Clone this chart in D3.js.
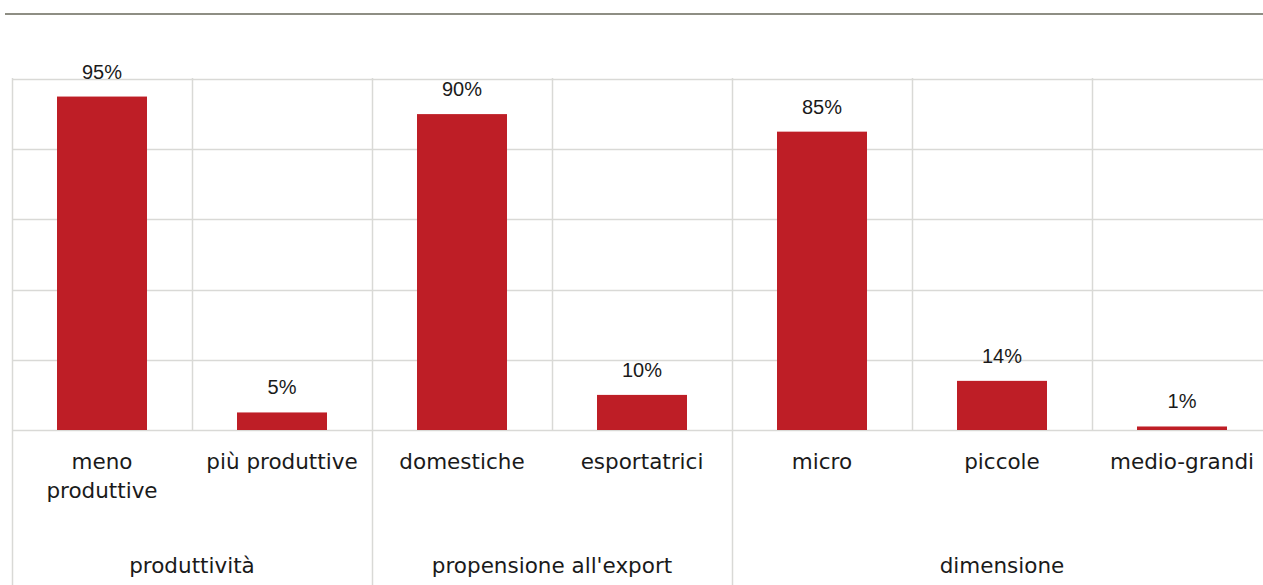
<!DOCTYPE html>
<html>
<head>
<meta charset="utf-8">
<script src="https://cdn.jsdelivr.net/npm/d3@7"></script>
<style>
  html, body { margin: 0; padding: 0; background: #ffffff; }
  svg { display: block; }
</style>
</head>
<body>
<svg id="chart" width="1263" height="585"></svg>
<script>
// Categories, their groups and the share of firms (%) in each
const categories = ["meno produttive", "più produttive", "domestiche", "esportatrici", "micro", "piccole", "medio-grandi"];
const categoryLines = [["meno", "produttive"], ["più produttive"], ["domestiche"], ["esportatrici"], ["micro"], ["piccole"], ["medio-grandi"]];
const values = [95, 5, 90, 10, 85, 14, 1];
const groups = ["produttività", "propensione all'export", "dimensione"];
const groupOf = [0, 0, 1, 1, 2, 2, 2];
const yTicks = [0, 20, 40, 60, 80, 100];

(function () {
  const svg = d3.select("#chart");
  const W = 1263, H = 585;
  const plotLeft = 12, plotRight = 1272, plotTop = 79, base = 430;

  const x = d3.scaleBand().domain(categories).range([plotLeft, plotRight]).paddingInner(0.5).paddingOuter(0.25);
  const step = x.step();
  const y = d3.scaleLinear().domain([0, 100]).range([base, plotTop]);

  const grid = "#d9d9d6";

  // Header rule
  svg.append("line")
    .attr("x1", 5).attr("x2", W).attr("y1", 14).attr("y2", 14)
    .attr("stroke", "#8e8e84").attr("stroke-width", 2);

  // Horizontal gridlines
  svg.append("g").selectAll("line").data(yTicks).join("line")
    .attr("x1", plotLeft).attr("x2", W)
    .attr("y1", d => Math.round(y(d)) + 0.5).attr("y2", d => Math.round(y(d)) + 0.5)
    .attr("stroke", grid).attr("stroke-width", 1.5);

  // Vertical dividers: category boundaries inside the plot, group boundaries run to the bottom
  const boundaries = d3.range(categories.length + 1).map(i => ({
    x: plotLeft + i * step,
    isGroup: i === 0 || i === categories.length || groupOf[i] !== groupOf[i - 1]
  }));
  svg.append("g").selectAll("line").data(boundaries).join("line")
    .attr("x1", d => Math.round(d.x) + 0.5).attr("x2", d => Math.round(d.x) + 0.5)
    .attr("y1", y(100) - 1).attr("y2", d => d.isGroup ? H : base)
    .attr("stroke", grid).attr("stroke-width", 1.5);

  // Bars
  const red = "#be1e26";
  svg.append("g").selectAll("rect").data(values).join("rect")
    .attr("x", (d, i) => x(categories[i]))
    .attr("width", x.bandwidth())
    .attr("y", d => y(d))
    .attr("height", d => base - y(d))
    .attr("fill", red);

  // Value labels
  svg.append("g").selectAll("text").data(values).join("text")
    .attr("x", (d, i) => x(categories[i]) + x.bandwidth() / 2)
    .attr("y", d => y(d) - 18)
    .attr("text-anchor", "middle")
    .attr("font-family", "'Liberation Sans', Arial, sans-serif")
    .attr("font-size", 20)
    .attr("fill", "#1a1a1a")
    .text(d => d + "%");

  // Category labels
  const catFont = "'DejaVu Sans', sans-serif";
  const catG = svg.append("g");
  categoryLines.forEach((lines, i) => {
    const cx = x(categories[i]) + x.bandwidth() / 2;
    const t = catG.append("text")
      .attr("x", cx)
      .attr("y", 469)
      .attr("text-anchor", "middle")
      .attr("font-family", catFont)
      .attr("font-size", 21.5)
      .attr("fill", "#1a1a1a");
    lines.forEach((ln, k) => {
      t.append("tspan")
        .attr("x", cx)
        .attr("dy", k === 0 ? 0 : 29)
        .text(ln);
    });
  });

  // Group labels centred under their categories
  svg.append("g").selectAll("text").data(groups).join("text")
    .attr("x", (g, gi) => {
      const idx = groupOf.map((v, i) => v === gi ? i : -1).filter(i => i >= 0);
      const x0 = plotLeft + idx[0] * step;
      const x1 = x0 + idx.length * step;
      return (x0 + x1) / 2;
    })
    .attr("y", 573)
    .attr("text-anchor", "middle")
    .attr("font-family", catFont)
    .attr("font-size", 21.5)
    .attr("fill", "#1a1a1a")
    .text(d => d);
})();
</script>
</body>
</html>
